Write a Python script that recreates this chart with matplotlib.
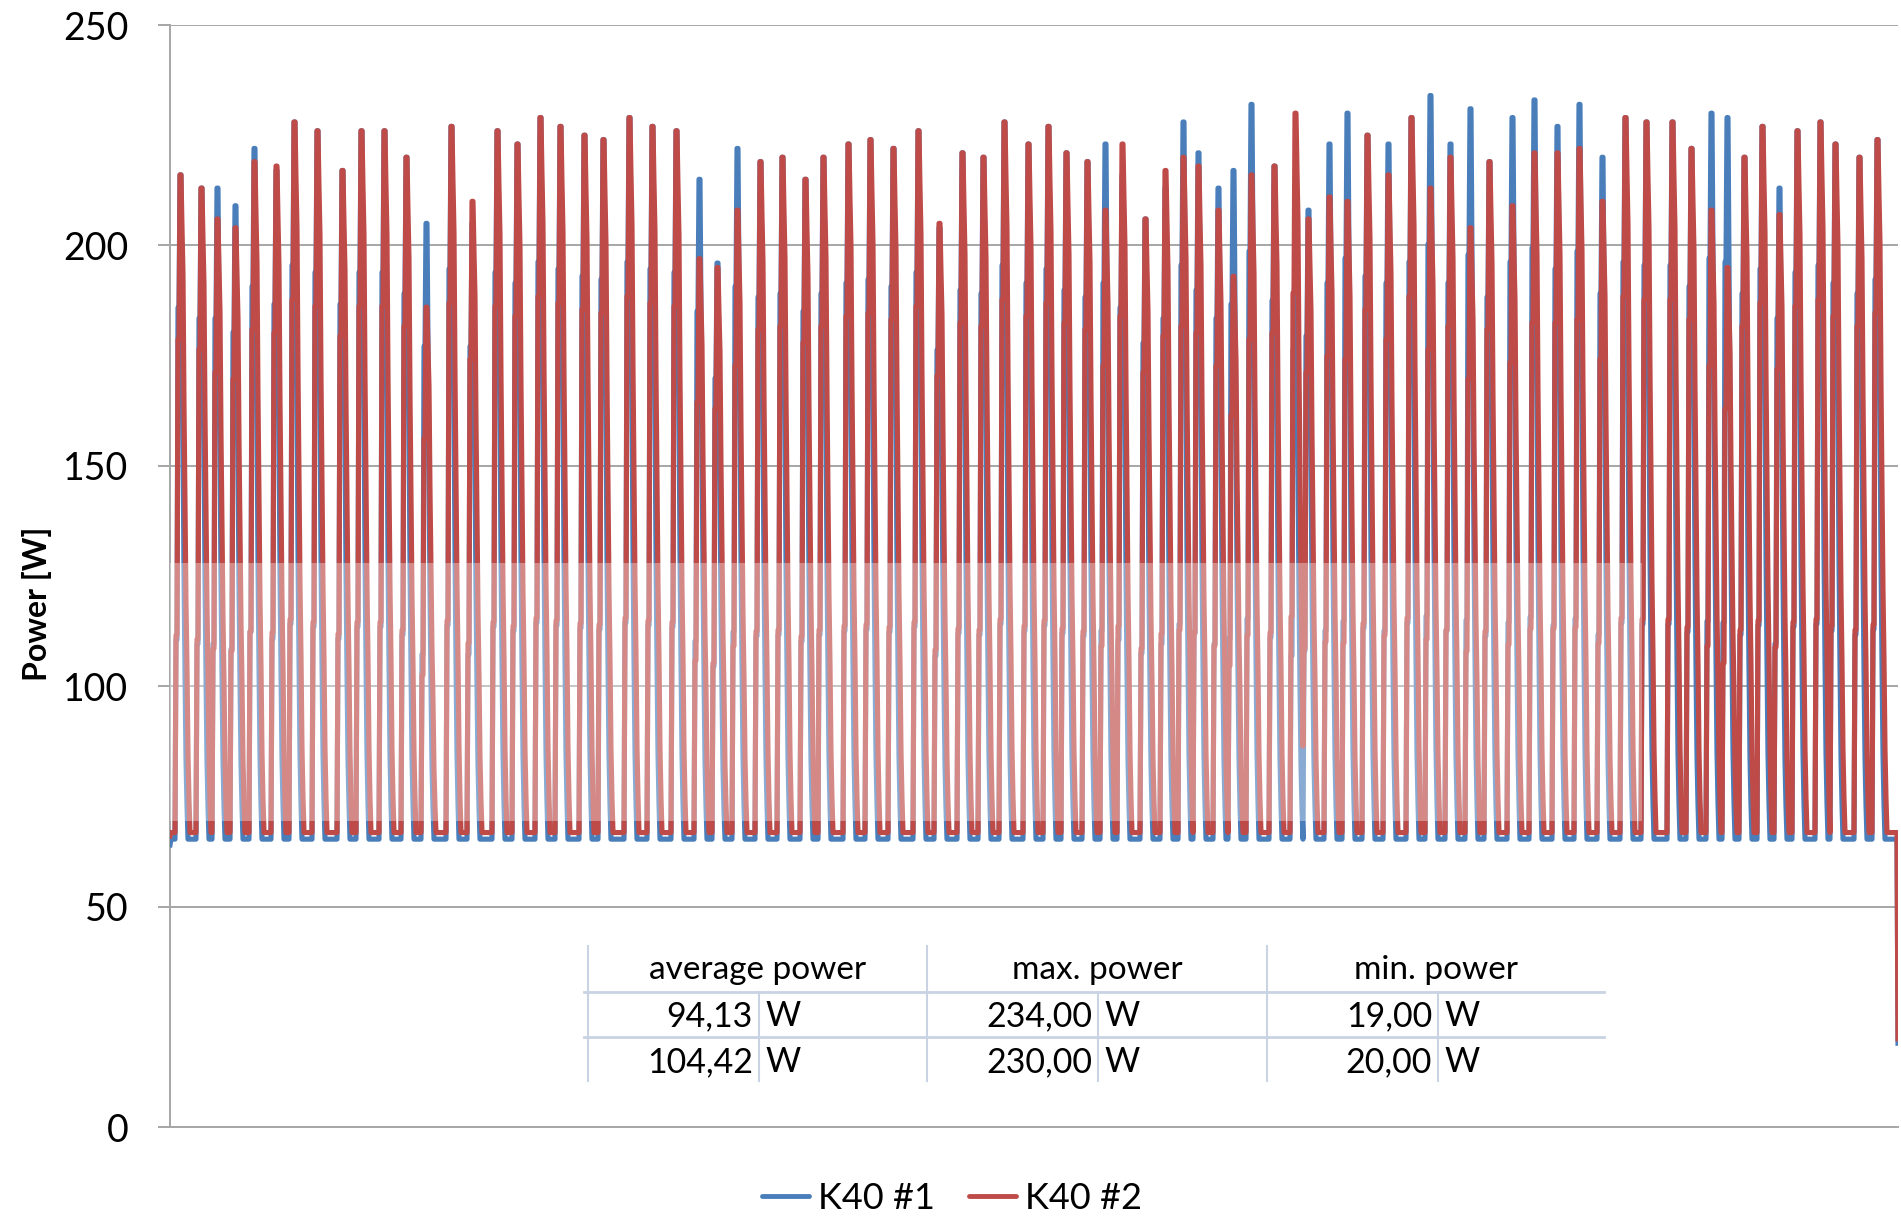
import numpy as np
import matplotlib.pyplot as plt
from matplotlib.patches import Rectangle
from matplotlib.lines import Line2D

# ==== Data ====
# sample index of each spike top
peak_t = [10, 31, 47, 65, 84, 106, 124, 147, 172, 191, 214, 236, 256, 281, 302,
          327, 347, 370, 390, 414, 433, 459, 482, 506, 529, 547, 567, 590, 612,
          635, 653, 678, 700, 723, 748, 769, 792, 813, 834, 858, 878, 896, 917,
          935, 952, 975, 995, 1013, 1028, 1048, 1063, 1081, 1104, 1125, 1138,
          1159, 1177, 1197, 1218, 1241, 1260, 1280, 1300, 1319, 1342, 1364,
          1387, 1409, 1432, 1455, 1476, 1502, 1521, 1541, 1557, 1574, 1592,
          1609, 1627, 1650, 1665, 1689, 1707]

peak_k40_1 = [216, 213, 213, 209, 222, 217, 228, 226, 217, 226, 226, 220, 205,
              227, 205, 226, 223, 229, 227, 225, 224, 229, 227, 226, 215, 196,
              222, 219, 220, 215, 220, 223, 224, 222, 226, 204, 221, 220, 228,
              223, 227, 221, 219, 223, 216, 206, 213, 228, 221, 213, 217, 232,
              218, 204, 208, 223, 230, 225, 223, 229, 234, 223, 231, 219, 229,
              233, 227, 232, 220, 229, 228, 228, 222, 230, 229, 220, 227, 213,
              226, 228, 223, 220, 224]

peak_k40_2 = [216, 213, 206, 204, 219, 218, 228, 226, 217, 226, 226, 220, 186,
              227, 210, 226, 223, 229, 227, 225, 224, 229, 227, 226, 197, 195,
              208, 219, 220, 215, 220, 223, 224, 222, 226, 205, 221, 220, 228,
              223, 227, 221, 219, 208, 223, 206, 217, 220, 218, 208, 193, 216,
              218, 230, 206, 211, 210, 225, 216, 229, 213, 220, 204, 219, 209,
              221, 221, 222, 210, 229, 228, 228, 222, 208, 195, 220, 227, 207,
              226, 228, 223, 220, 224]

# idle level, first and last logged value of each unit
base_1, base_2 = 65.3, 66.8
start_1, start_2 = 64.0, 66.0
end_1, end_2 = 19.0, 20.0

# spike profile (fraction of peak above idle), starting 4 samples before the top
shape_1 = [0.30, 0.30, 0.80, 0.80, 1.00, 1.00, 0.80, 0.60, 0.40, 0.25, 0.12, 0.05]
shape_2 = [0.30, 0.30, 0.75, 0.75, 1.00, 1.00, 0.92, 0.85, 0.65, 0.50, 0.35, 0.25,
           0.12, 0.05]

n_samples = 1729

# summary table
table_head = ["average power", "max. power", "min. power"]
table_k40_1 = ["94,13", "234,00", "19,00"]
table_k40_2 = ["104,42", "230,00", "20,00"]


def build(base, start, end, peaks, shape):
    y = np.full(n_samples, base)
    for t, p in zip(peak_t, peaks):
        for j, f in enumerate(shape):
            i = t - 4 + j
            if 0 <= i < n_samples:
                y[i] = max(y[i], base + f * (p - base))
    y[0] = start
    y[-1] = end
    return y


k40_1 = build(base_1, start_1, end_1, peak_k40_1, shape_1)
k40_2 = build(base_2, start_2, end_2, peak_k40_2, shape_2)
t = np.arange(n_samples)

BLUE = "#4A7EBB"
RED = "#BE4B48"
GRID = "#A6A6A6"
FONT = ["Lato", "DejaVu Sans"]
NARROW = ["Liberation Sans Narrow", "Lato", "DejaVu Sans"]

# ==== Figure ====
W, H = 1901, 1218
fig = plt.figure(figsize=(W / 100, H / 100), dpi=100)
ax = fig.add_axes([170 / W, 1 - 1127 / H, 1728 / W, 1102 / H])

ax.plot(t, k40_1, color=BLUE, lw=3.7, solid_joinstyle="round", zorder=3)
ax.plot(t, k40_2, color=RED, lw=3.7, solid_joinstyle="round", zorder=4)

# faint washed-out band present in the source image
ax.add_patch(Rectangle((0, 69.5), 0.852 * (n_samples - 1), 58.5, facecolor="white",
                       alpha=0.35, edgecolor="none", zorder=5))

ax.set_xlim(0, n_samples - 1)
ax.set_ylim(0, 250)
ax.set_yticks(range(0, 251, 50))
ax.set_xticks([])
ax.grid(axis="y", color=GRID, lw=1.4)
ax.set_axisbelow(True)
for s in ["top", "right"]:
    ax.spines[s].set_visible(False)
ax.spines["left"].set_color(GRID)
ax.spines["left"].set_linewidth(1.4)
ax.spines["bottom"].set_color(GRID)
ax.spines["bottom"].set_linewidth(1.4)
ax.tick_params(axis="y", length=9, width=1.4, color=GRID, pad=21, labelsize=27)
for lab in ax.get_yticklabels():
    lab.set_family(FONT)

ax.set_ylabel("Power [W]", fontsize=23, fontweight="bold", family=NARROW)
ax.yaxis.set_label_coords(-0.0685, 0.475)

# ==== Legend ====
handles = [Line2D([], [], color=BLUE, lw=3.5, solid_capstyle="round"),
           Line2D([], [], color=RED, lw=3.5, solid_capstyle="round")]
fig.legend(handles, ["K40 #1", "K40 #2"], loc="center", bbox_to_anchor=(0.5007, 0.016),
           ncol=2, frameon=False, prop={"family": FONT, "size": 26},
           handlelength=1.3, handletextpad=0.25, columnspacing=0.95)

# ==== Summary table ====
def fx(px):
    return px / W


def fy(py):
    return 1 - py / H


TBL = "#C9D3E4"
for x in [588, 927, 1267]:
    fig.add_artist(Line2D([fx(x), fx(x)], [fy(946), fy(1081)], color=TBL, lw=1.5))
for x in [759, 1098, 1438]:
    fig.add_artist(Line2D([fx(x), fx(x)], [fy(992), fy(1081)], color=TBL, lw=1.5))
for y in [992, 1037]:
    fig.add_artist(Line2D([fx(584), fx(1604)], [fy(y), fy(y)], color=TBL, lw=2.0))

head_x = [758, 1097, 1436]
sep_x = [759, 1098, 1438]
for hx, txt in zip(head_x, table_head):
    fig.text(fx(hx), fy(970), txt, ha="center", va="center", family=FONT, fontsize=24)
for row_y, row in [(1016, table_k40_1), (1062, table_k40_2)]:
    for sx, val in zip(sep_x, row):
        fig.text(fx(sx - 6), fy(row_y), val, ha="right", va="center", family=FONT, fontsize=24.5)
        fig.text(fx(sx + 6), fy(row_y), "W", ha="left", va="center", family=FONT, fontsize=24.5)

fig.savefig("out.png", dpi=100)
